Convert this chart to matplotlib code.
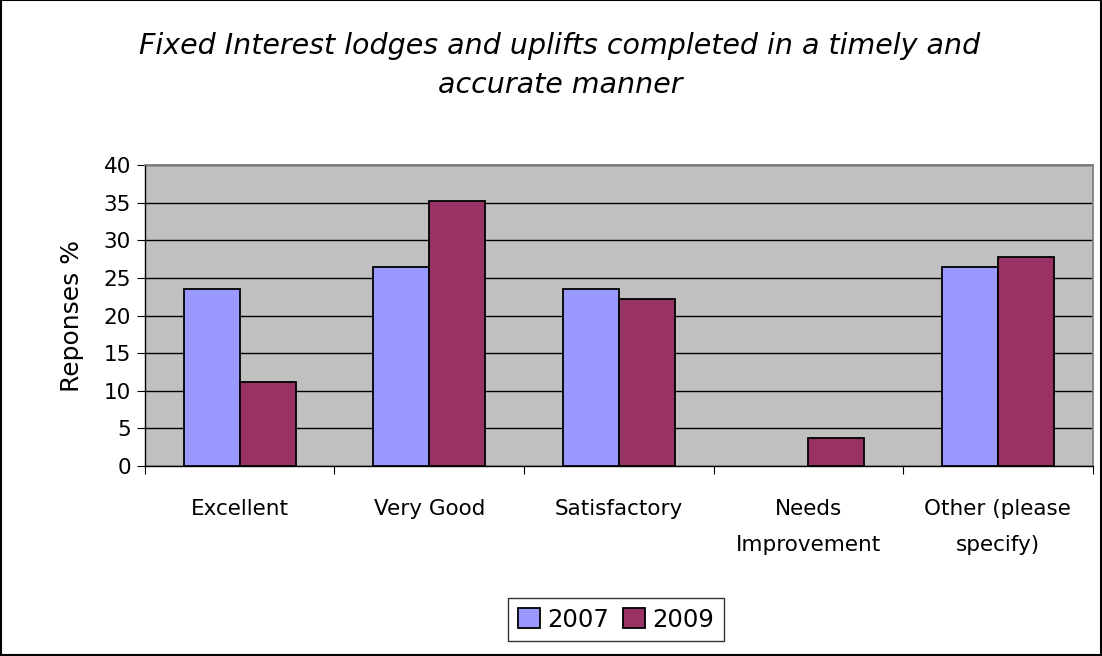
import matplotlib.pyplot as plt
import numpy as np
from matplotlib.patches import Rectangle

categories = ['Excellent', 'Very Good', 'Satisfactory', 'Needs\nImprovement', 'Other (please\nspecify)']
years = ['2007', '2009']
vals_2007 = [23.5, 26.5, 23.5, 0.0, 26.5]
vals_2009 = [11.1, 35.2, 22.2, 3.7, 27.8]
yticks = [0, 5, 10, 15, 20, 25, 30, 35, 40]

plt.rcParams['font.family'] = 'DejaVu Sans'

fig = plt.figure(figsize=(11.02, 6.56), dpi=100)
ax = fig.add_axes([0.1315, 0.2896, 0.8600, 0.4589])

x = np.arange(len(categories))
w = 0.295
# no outline on empty bars
lw07 = [1.3 if v > 0 else 0 for v in vals_2007]
lw09 = [1.3 if v > 0 else 0 for v in vals_2009]
ax.bar(x - w / 2, vals_2007, w, color='#9999FF', edgecolor='black', linewidth=lw07, label=years[0], zorder=3)
ax.bar(x + w / 2, vals_2009, w, color='#993366', edgecolor='black', linewidth=lw09, label=years[1], zorder=3)

ax.set_facecolor('#C0C0C0')
ax.set_xlim(-0.5, len(categories) - 0.5)
ax.set_ylim(0, 40)
ax.set_yticks(yticks)
ax.yaxis.grid(True, color='black', linewidth=1)
ax.set_axisbelow(True)

# category ticks at boundaries, labels centred
ax.set_xticks(np.arange(len(categories) + 1) - 0.5)
ax.set_xticklabels([])
ax.set_xticks(x, minor=True)
ax.set_xticklabels(categories, minor=True, fontsize=15.5, linespacing=1.95)
ax.tick_params(axis='x', which='minor', length=0, pad=24)
ax.tick_params(axis='x', which='major', direction='out', length=6, color='black')
ax.tick_params(axis='y', direction='out', length=6, labelsize=15.5, pad=4)

for s in ['top', 'right']:
    ax.spines[s].set_color('#808080')
    ax.spines[s].set_linewidth(1.3)
for s in ['left', 'bottom']:
    ax.spines[s].set_color('black')
    ax.spines[s].set_linewidth(1)

ax.set_ylabel('Reponses %', fontsize=18, labelpad=14)

fig.text(0.508, 0.9, 'Fixed Interest lodges and uplifts completed in a timely and\naccurate manner',
         ha='center', va='center', fontsize=20.5, style='italic', linespacing=1.5)

leg = fig.legend(loc='center', bbox_to_anchor=(0.559, 0.0555), ncol=2, fontsize=17.5,
                 frameon=True, fancybox=False, edgecolor='black', handlelength=0.9,
                 handleheight=0.9, handletextpad=0.3, columnspacing=0.6, borderpad=0.4)
leg.get_frame().set_linewidth(1)

fig.patches.append(Rectangle((0.0005, 0.0008), 0.999, 0.9985, transform=fig.transFigure,
                             fill=False, edgecolor='black', linewidth=1.5))

fig.savefig('out.png', dpi=100)
